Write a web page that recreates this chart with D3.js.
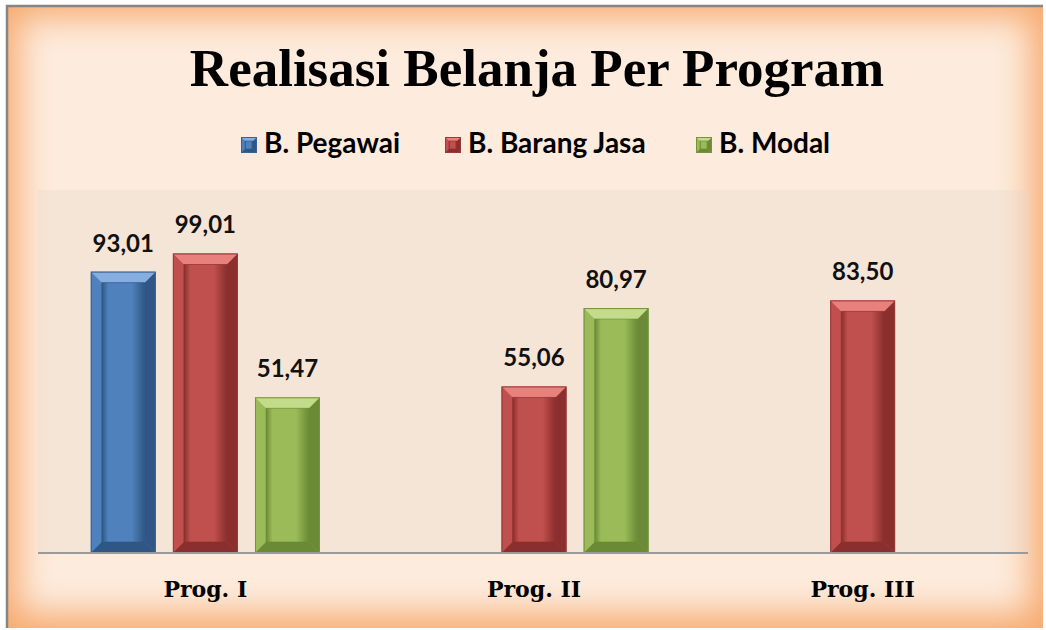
<!DOCTYPE html>
<html>
<head>
<meta charset="utf-8">
<script src="https://cdn.jsdelivr.net/npm/d3@7"></script>
<style>
  html, body { margin: 0; padding: 0; background: #fff; }
  svg { display: block; }
</style>
</head>
<body>
<div id="chart"></div>
<script>
// chart data
const categories = ['Prog. I', 'Prog. II', 'Prog. III'];
const seriesNames = ['B. Pegawai', 'B. Barang Jasa', 'B. Modal'];
const pegawai = [93.01, null, null];
const barangJasa = [99.01, 55.06, 83.50];
const modal = [51.47, 80.97, null];
const title = 'Realisasi Belanja Per Program';

const colors = {
  'B. Pegawai':     {base: '#4f81bd', light: '#86aee0', dark: '#2f5684', edge: '#3a6192'},
  'B. Barang Jasa': {base: '#c0504d', light: '#e8807c', dark: '#8a2f2d', edge: '#953b39'},
  'B. Modal':       {base: '#9bbb59', light: '#c2dc8c', dark: '#6a8a35', edge: '#76923c'}
};

const W = 1046, H = 630;
const svg = d3.select('#chart').append('svg')
  .attr('width', W).attr('height', H);

const defs = svg.append('defs');
defs.append('filter').attr('id', 'soft')
  .attr('x', '-20%').attr('y', '-20%').attr('width', '140%').attr('height', '140%')
  .append('feGaussianBlur').attr('stdDeviation', 17);

// frame with orange glowing edges
const frame = {x: 6, y: 5, w: 1037, h: 623};
svg.append('rect').attr('x', frame.x).attr('y', frame.y)
  .attr('width', frame.w).attr('height', frame.h).attr('fill', '#f7aa6e');
const clip = defs.append('clipPath').attr('id', 'frameClip');
clip.append('rect').attr('x', frame.x).attr('y', frame.y)
  .attr('width', frame.w).attr('height', frame.h);
svg.append('g').attr('clip-path', 'url(#frameClip)')
  .append('rect')
  .attr('x', frame.x + 12).attr('y', frame.y + 12)
  .attr('width', frame.w - 24).attr('height', frame.h - 26)
  .attr('fill', '#fdebdd').attr('filter', 'url(#soft)');
// gray top/left border
svg.append('path')
  .attr('d', `M${frame.x + 1},${frame.y + frame.h} V${frame.y + 1} H${frame.x + frame.w}`)
  .attr('fill', 'none').attr('stroke', '#858585').attr('stroke-width', 2.5);

// scales
const x0 = d3.scaleBand().domain(categories).range([41, 1027]);
const x1 = d3.scaleBand().domain(seriesNames)
  .range([x0.bandwidth() / 2 - 114.5, x0.bandwidth() / 2 + 114.5])
  .paddingInner(0.21);
const y = d3.scaleLinear().domain([0, 120]).range([553, 190]);

// plot area
svg.append('rect')
  .attr('x', 38).attr('y', y(120))
  .attr('width', 992).attr('height', y(0) - y(120))
  .attr('fill', '#e3d6c8').attr('opacity', 0.28);

// title
svg.append('text')
  .attr('x', 537).attr('y', 86)
  .attr('text-anchor', 'middle')
  .attr('font-family', '"Liberation Serif", serif')
  .attr('font-weight', 'bold')
  .attr('font-size', 53)
  .attr('fill', '#000')
  .text(title);

// bevelled box drawing
function bevelBox(g, bx, by, bw, bh, c, b) {
  const gid = 'face' + c.base.slice(1);
  if (defs.select('#' + gid).empty()) {
    const lg = defs.append('linearGradient').attr('id', gid)
      .attr('x1', 0).attr('x2', 1).attr('y1', 0).attr('y2', 0);
    lg.append('stop').attr('offset', 0).attr('stop-color', c.dark);
    lg.append('stop').attr('offset', 0.15).attr('stop-color', c.base);
    lg.append('stop').attr('offset', 0.7).attr('stop-color', c.base);
    lg.append('stop').attr('offset', 1).attr('stop-color', c.dark);
  }
  b = Math.min(b, bw / 2, bh / 2);
  const P = pts => pts.map(p => p.join(',')).join(' ');
  g.append('rect').attr('x', bx).attr('y', by).attr('width', bw).attr('height', bh)
    .attr('fill', c.base);
  // left
  g.append('polygon').attr('points', P([[bx, by], [bx + b, by + b], [bx + b, by + bh - b], [bx, by + bh]]))
    .attr('fill', c.base);
  // right
  g.append('polygon').attr('points', P([[bx + bw, by], [bx + bw - b, by + b], [bx + bw - b, by + bh - b], [bx + bw, by + bh]]))
    .attr('fill', c.dark);
  // top
  g.append('polygon').attr('points', P([[bx, by], [bx + bw, by], [bx + bw - b, by + b], [bx + b, by + b]]))
    .attr('fill', c.light);
  // bottom
  g.append('polygon').attr('points', P([[bx, by + bh], [bx + bw, by + bh], [bx + bw - b, by + bh - b], [bx + b, by + bh - b]]))
    .attr('fill', c.dark);
  // face
  g.append('rect').attr('x', bx + b).attr('y', by + b)
    .attr('width', Math.max(0, bw - 2 * b)).attr('height', Math.max(0, bh - 2 * b))
    .attr('fill', `url(#${gid})`)
    .attr('stroke', c.dark).attr('stroke-opacity', 0.6).attr('stroke-width', 1);
  g.append('rect').attr('x', bx + 0.5).attr('y', by + 0.5).attr('width', bw - 1).attr('height', bh - 1)
    .attr('fill', 'none').attr('stroke', c.edge).attr('stroke-width', 1);
}

// legend
const legendItems = [
  {name: seriesNames[0], x: 241},
  {name: seriesNames[1], x: 445},
  {name: seriesNames[2], x: 696}
];
const legend = svg.append('g');
legendItems.forEach(d => {
  bevelBox(legend, d.x, 137, 16, 16, colors[d.name], 4);
  legend.append('text')
    .attr('x', d.x + 23).attr('y', 153)
    .attr('font-family', 'Lato, sans-serif')
    .attr('font-weight', 'bold')
    .attr('font-size', 28)
    .attr('fill', '#000')
    .text(d.name);
});

// bars
const valuesBySeries = {
  'B. Pegawai': pegawai,
  'B. Barang Jasa': barangJasa,
  'B. Modal': modal
};
const fmt = v => d3.format('.2f')(v).replace('.', ',');

const bars = svg.append('g');
categories.forEach((cat, i) => {
  seriesNames.forEach(s => {
    const v = valuesBySeries[s][i];
    if (v == null) return;
    const bx = x0(cat) + x1(s);
    const bw = x1.bandwidth();
    const by = y(v);
    bevelBox(bars, bx, by, bw, y(0) - by, colors[s], 11);
    bars.append('text')
      .attr('x', bx + bw / 2).attr('y', by - 20)
      .attr('text-anchor', 'middle')
      .attr('font-family', 'Lato, sans-serif')
      .attr('font-weight', 'bold')
      .attr('font-size', 24)
      .attr('fill', '#111')
      .text(fmt(v));
  });
});

// axis line
svg.append('line')
  .attr('x1', 38).attr('x2', 1028)
  .attr('y1', y(0)).attr('y2', y(0))
  .attr('stroke', '#9a9a9a').attr('stroke-width', 2);

// category labels
svg.append('g').selectAll('text')
  .data(categories)
  .join('text')
  .attr('x', d => x0(d) + x0.bandwidth() / 2)
  .attr('y', 597)
  .attr('text-anchor', 'middle')
  .attr('font-family', '"DejaVu Serif", serif')
  .attr('font-weight', 'bold')
  .attr('font-size', 22)
  .attr('fill', '#000')
  .text(d => d);
</script>
</body>
</html>
